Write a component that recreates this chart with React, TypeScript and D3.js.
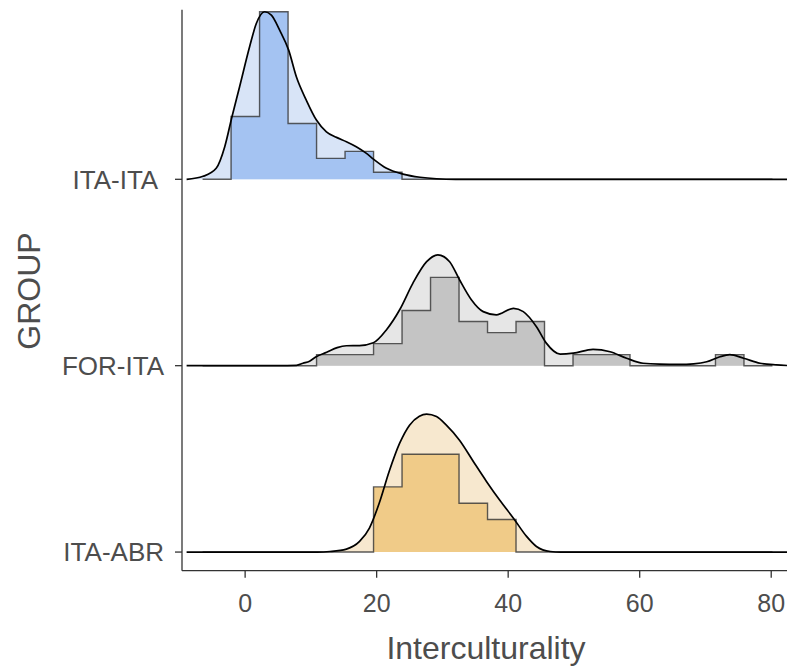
import React from "react";
import * as d3 from "d3";

// ridge groups, bottom to top
const groups = ["ITA-ABR", "FOR-ITA", "ITA-ITA"];
const groupLabels = ["ITA-ABR", "FOR-ITA", "ITA-ITA "];
const fillHist = ["#f0cb88", "#c4c4c4", "#a4c3f2"];
const fillDens = ["#f7e8cf", "#e6e6e6", "#d8e4f7"];

// histogram: 20 bins from binStart, counts per bin
const binStart = -6.47;
const binWidth = 4.333;
const countsItaAbr = [0, 0, 0, 0, 0, 0, 4, 6, 6, 3, 2, 0, 0, 0, 0, 0, 0, 0, 0, 0];
const countsForIta = [0, 0, 0, 0, 1, 1, 2, 5, 8, 4, 3, 4, 0, 1, 1, 0, 0, 0, 1, 0];
const countsItaIta = [0, 9, 24, 8, 3, 4, 1, 0, 0, 0, 0, 0, 0, 0, 0, 0, 0, 0, 0, 0];

// density ridges: [x, scaled height] (height in units of ridge spacing)
const densItaAbr: [number, number][] = [
  [-8.9, 0], [11, 0], [12.9, 0.003], [15.4, 0.016], [17.4, 0.057], [18.9, 0.129],
  [20.4, 0.263], [21.9, 0.432], [23.5, 0.584], [25, 0.681], [26.5, 0.729],
  [27.6, 0.74], [29.1, 0.727], [30.6, 0.681], [32.6, 0.6], [34.7, 0.486],
  [36.7, 0.379], [38.7, 0.279], [40.8, 0.182], [42.8, 0.084], [44.3, 0.03],
  [46.4, 0.003], [48, 0], [82.4, 0],
];
const densForIta: [number, number][] = [
  [-8.9, 0], [5, 0], [7.8, 0.002], [8.8, 0.013], [9.8, 0.024], [10.8, 0.048],
  [12.4, 0.072], [14, 0.097], [15.4, 0.107], [17.4, 0.108], [19.5, 0.123],
  [21.5, 0.193], [23.5, 0.3], [25.5, 0.442], [27.6, 0.558], [29.3, 0.595],
  [31.1, 0.558], [32.6, 0.461], [34.4, 0.354], [36.2, 0.29], [38.2, 0.273],
  [40.8, 0.308], [42.3, 0.29], [44.3, 0.209], [45.8, 0.121], [47.9, 0.062],
  [49.9, 0.067], [52.9, 0.088], [55.5, 0.075], [58, 0.04], [60.5, 0.013],
  [63, 0.008], [66, 0.007], [68.2, 0.01], [70.2, 0.021], [72.2, 0.048],
  [73.7, 0.059], [75.8, 0.04], [78.3, 0.013], [80.8, 0.004], [82.4, 0.001],
];
const densItaIta: [number, number][] = [
  [-8.9, 0], [-6.4, 0.016], [-4.4, 0.059], [-3.1, 0.175], [-2.0, 0.336],
  [-0.84, 0.497], [0.68, 0.711], [1.7, 0.836], [2.97, 0.899], [3.99, 0.881],
  [5.25, 0.8], [6.62, 0.693], [7.79, 0.55], [9.3, 0.425], [10.84, 0.318],
  [12.36, 0.255], [13.9, 0.225], [15.4, 0.202], [16.9, 0.175], [18.45, 0.139],
  [19.56, 0.107], [21.5, 0.059], [24, 0.028], [26.6, 0.011], [29.1, 0.003],
  [32, 0], [82.4, 0],
];

const xTicks = [0, 20, 40, 60, 80];

const counts = [countsItaAbr, countsForIta, countsItaIta];
const dens = [densItaAbr, densForIta, densItaIta];

export default function App() {
  const W = 787;
  const H = 668;
  const left = 182;
  const bottom = 570.7;

  const x = d3.scaleLinear().domain([-9.6, 82.4]).range([left, W]);
  const y = d3.scaleLinear().domain([-0.1, 2.91]).range([bottom, 9.7]);

  // histogram heights scaled so the tallest bin matches the tallest density
  const fracs = counts.map((c) => {
    const tot = d3.sum(c);
    return c.map((v) => v / tot);
  });
  const maxFrac = d3.max(fracs.flat()) as number;
  const maxDens = d3.max(dens.flat().map((d) => d[1])) as number;
  const hScale = d3.scaleLinear().domain([0, maxFrac]).range([0, maxDens]);

  const font = "'Liberation Sans', Arial, sans-serif";
  const textCol = "#4d4d4d";

  const ridges = groups
    .map((g, i) => {
      const base = i;
      const area = d3
        .area<[number, number]>()
        .x((d) => x(d[0]))
        .y0(y(base))
        .y1((d) => y(base + d[1]))
        .curve(d3.curveMonotoneX);
      const line = d3
        .line<[number, number]>()
        .x((d) => x(d[0]))
        .y((d) => y(base + d[1]))
        .curve(d3.curveMonotoneX);

      const steps: [number, number][] = fracs[i].map((f, k) => [binStart + k * binWidth, hScale(f)]);
      steps.push([binStart + fracs[i].length * binWidth, hScale(fracs[i][fracs[i].length - 1])]);
      const hArea = d3
        .area<[number, number]>()
        .x((d) => x(d[0]))
        .y0(y(base))
        .y1((d) => y(base + d[1]))
        .curve(d3.curveStepAfter);
      const hLine = d3
        .line<[number, number]>()
        .x((d) => x(d[0]))
        .y((d) => y(base + d[1]))
        .curve(d3.curveStepAfter);

      return (
        <g key={g}>
          <path d={area(dens[i]) || ""} fill={fillDens[i]} />
          <path d={hArea(steps) || ""} fill={fillHist[i]} />
          <path d={hLine(steps) || ""} fill="none" stroke="#333" strokeOpacity={0.8} strokeWidth={1.4} />
          <path d={line(dens[i]) || ""} fill="none" stroke="#000" strokeWidth={1.7} />
        </g>
      );
    })
    .reverse();

  return (
    <svg width={W} height={H} style={{ position: "absolute", left: 0, top: 0, background: "#fff" }}>
      <defs>
        <clipPath id="panel">
          <rect x={left} y={0} width={W - left} height={bottom} />
        </clipPath>
      </defs>
      <g clipPath="url(#panel)">{ridges}</g>

      {/* axes */}
      <line x1={left} x2={left} y1={9.7} y2={bottom} stroke="#333" strokeWidth={1.3} />
      <line x1={left} x2={W} y1={bottom} y2={bottom} stroke="#333" strokeWidth={1.3} />

      {groups.map((g, i) => (
        <g key={g}>
          <line x1={left - 7} x2={left} y1={y(i)} y2={y(i)} stroke="#333" strokeWidth={1.3} />
          <text
            x={left - 18}
            y={y(i)}
            dy="0.36em"
            textAnchor="end"
            fontFamily={font}
            fontSize={26}
            fill={textCol}
            style={{ whiteSpace: "pre" }}
          >
            {groupLabels[i]}
          </text>
        </g>
      ))}

      {xTicks.map((t) => (
        <g key={t}>
          <line x1={x(t)} x2={x(t)} y1={bottom} y2={bottom + 7} stroke="#333" strokeWidth={1.3} />
          <text x={x(t)} y={612} textAnchor="middle" fontFamily={font} fontSize={25} fill={textCol}>
            {t}
          </text>
        </g>
      ))}

      <text x={486} y={659} textAnchor="middle" fontFamily={font} fontSize={32} fill={textCol}>
        Interculturality
      </text>
      <text
        transform={`translate(40, 291) rotate(-90)`}
        textAnchor="middle"
        fontFamily={font}
        fontSize={32}
        fill={textCol}
      >
        GROUP
      </text>
    </svg>
  );
}
